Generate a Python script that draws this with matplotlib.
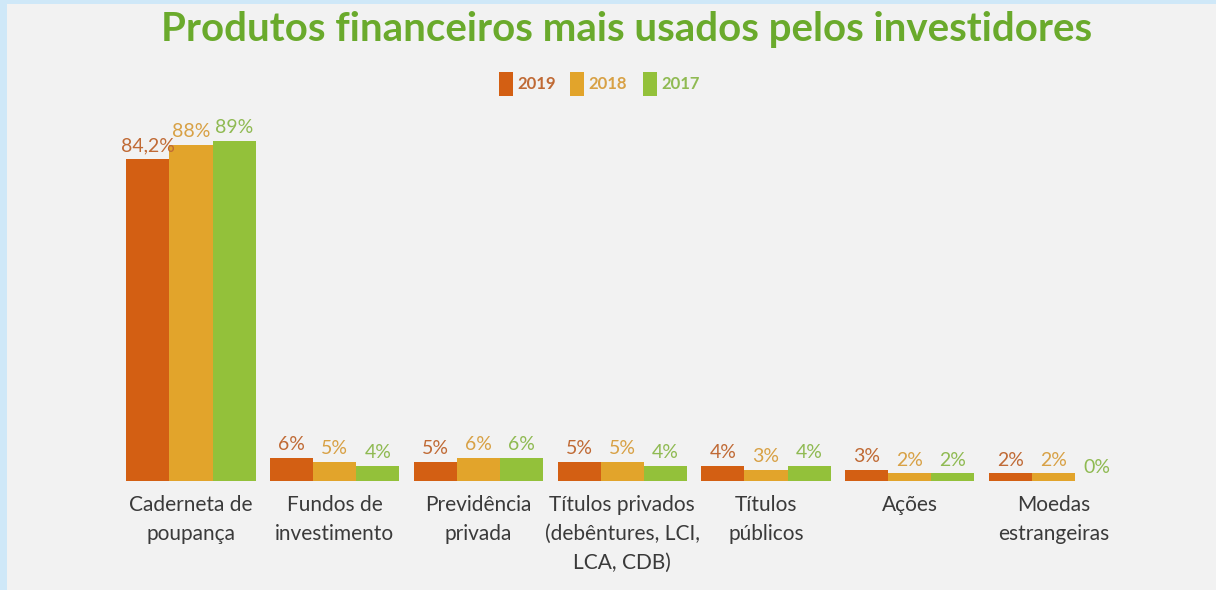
import matplotlib
matplotlib.use("Agg")
import matplotlib.pyplot as plt
import numpy as np
from matplotlib.patches import Rectangle

plt.rcParams['font.family'] = ['Lato', 'DejaVu Sans']

categorias = ["Caderneta de\npoupança", "Fundos de\ninvestimento", "Previdência\nprivada",
              "Títulos privados\n(debêntures, LCI,\nLCA, CDB)", "Títulos\npúblicos",
              "Ações", "Moedas\nestrangeiras"]
anos = ["2019", "2018", "2017"]
v2019 = [84.2, 6, 5, 5, 4, 3, 2]
v2018 = [88, 5, 6, 5, 3, 2, 2]
v2017 = [89, 4, 6, 4, 4, 2, 0]
rotulos2019 = ["84,2%", "6%", "5%", "5%", "4%", "3%", "2%"]
rotulos2018 = ["88%", "5%", "6%", "5%", "3%", "2%", "2%"]
rotulos2017 = ["89%", "4%", "6%", "4%", "4%", "2%", "0%"]

cores = ["#d35f13", "#e2a42b", "#93c13a"]
cores_txt = ["#c06a35", "#d8a145", "#8fba52"]

W, H = 1216, 590
fig = plt.figure(figsize=(W / 100, H / 100), dpi=100)
fig.patch.set_facecolor("#f2f2f2")
# borda azul em cima e a esquerda
fig.patches.append(Rectangle((0, 1 - 4 / H), 1, 4 / H, transform=fig.transFigure,
                             facecolor="#cfe8f8", edgecolor="none"))
fig.patches.append(Rectangle((0, 0), 7 / W, 1, transform=fig.transFigure,
                             facecolor="#cfe8f8", edgecolor="none"))

ax = fig.add_axes([7 / W, 1 - 481 / H, 1200 / W, 382 / H])
ax.set_facecolor("none")
x = np.arange(len(categorias))
larg = 0.3
series = [v2019, v2018, v2017]
rotulos = [rotulos2019, rotulos2018, rotulos2017]
for k in range(3):
    pos = x + (k - 1) * larg
    ax.bar(pos, series[k], width=larg, color=cores[k], zorder=2)
    for i in range(len(categorias)):
        ax.text(pos[i], series[k][i] + 1.2, rotulos[k][i], ha="center", va="bottom",
                fontsize=14, color=cores_txt[k])

ax.set_xlim(-1.28, 7.068)
ax.set_ylim(0, 100)
ax.set_xticks(x)
ax.set_xticklabels(categorias, fontsize=15, color="#3a3a3a", linespacing=1.55, va="top")
ax.tick_params(axis="x", length=0, pad=10)
ax.set_yticks([])
for s in ax.spines.values():
    s.set_visible(False)

fig.text(0.515, 1 - 30 / H, "Produtos financeiros mais usados pelos investidores",
         ha="center", va="center", fontsize=29, fontweight="bold", color="#6aaa2c")

# legenda
leg_x = [499, 570, 643]
for k in range(3):
    fig.patches.append(Rectangle((leg_x[k] / W, 1 - 96 / H), 14 / W, 24 / H,
                                 transform=fig.transFigure, facecolor=cores[k],
                                 edgecolor="none"))
    fig.text((leg_x[k] + 18) / W, 1 - 84 / H, anos[k], ha="left", va="center",
             fontsize=12, fontweight="bold", color=cores_txt[k])

fig.savefig("out.png", dpi=100, facecolor=fig.get_facecolor())
